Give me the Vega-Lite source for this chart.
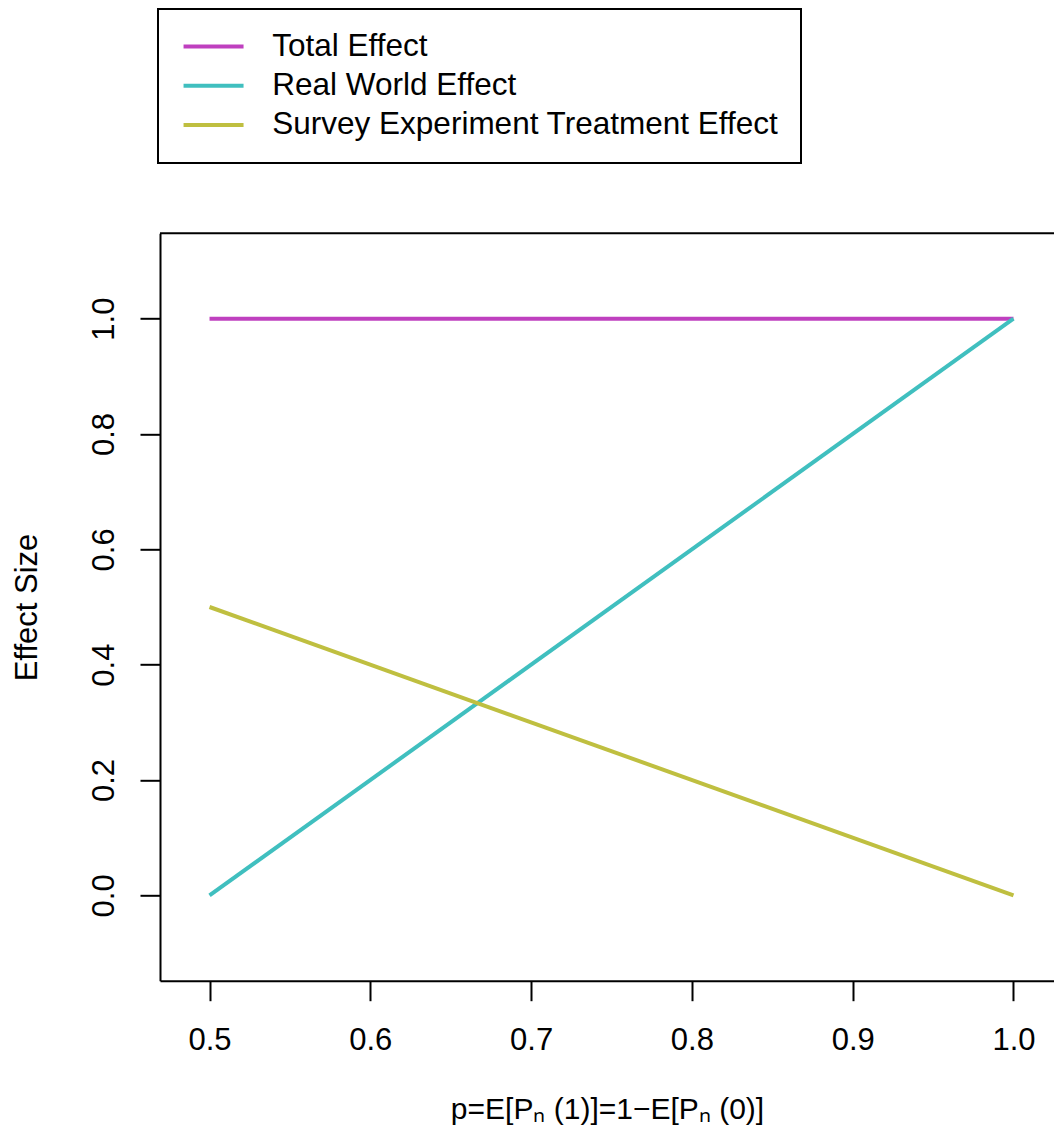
{
  "$schema": "https://vega.github.io/schema/vega-lite/v6.json",
  "autosize": "none",
  "width": 894,
  "height": 747.4,
  "padding": {"left": 160, "top": 233.3, "right": 0, "bottom": 152.3},
  "background": "white",
  "config": {
    "view": {"stroke": null},
    "font": "Liberation Sans"
  },
  "data": {
    "values": [
      {"p": 0.5, "effect": 1.0, "series": "Total Effect"},
      {"p": 1.0, "effect": 1.0, "series": "Total Effect"},
      {"p": 0.5, "effect": 0.0, "series": "Real World Effect"},
      {"p": 1.0, "effect": 1.0, "series": "Real World Effect"},
      {"p": 0.5, "effect": 0.5, "series": "Survey Experiment Treatment Effect"},
      {"p": 1.0, "effect": 0.0, "series": "Survey Experiment Treatment Effect"}
    ]
  },
  "layer": [
    {
      "data": {"values": [{}]},
      "mark": {"type": "rule", "color": "black", "strokeWidth": 2},
      "encoding": {"y": {"datum": 1.148, "type": "quantitative"}}
    },
    {
      "mark": {"type": "line", "strokeWidth": 4, "strokeCap": "butt"},
      "encoding": {
        "x": {
          "field": "p",
          "type": "quantitative",
          "scale": {"domain": [0.4692, 1.0252], "nice": false, "zero": false},
          "axis": {
            "values": [0.5, 0.6, 0.7, 0.8, 0.9, 1.0],
            "format": ".1f",
            "grid": false,
            "domainColor": "black",
            "domainWidth": 2,
            "tickColor": "black",
            "tickWidth": 2,
            "tickSize": 20,
            "labelFontSize": 31,
            "labelColor": "black",
            "labelPadding": 48.6,
            "labelBaseline": "alphabetic",
            "labelFlush": false,
            "labelOverlap": false,
            "title": "p=E[Pₙ (1)]=1−E[Pₙ (0)]",
            "titleFontSize": 30,
            "titleFontWeight": "normal",
            "titleColor": "black",
            "titleBaseline": "alphabetic",
            "titleY": 137.6
          }
        },
        "y": {
          "field": "effect",
          "type": "quantitative",
          "scale": {"domain": [-0.148, 1.148], "nice": false, "zero": false},
          "axis": {
            "values": [0, 0.2, 0.4, 0.6, 0.8, 1.0],
            "format": ".1f",
            "grid": false,
            "domainColor": "black",
            "domainWidth": 2,
            "tickColor": "black",
            "tickWidth": 2,
            "tickSize": 20,
            "labelFontSize": 31,
            "labelColor": "black",
            "labelAngle": 270,
            "labelAlign": "center",
            "labelBaseline": "alphabetic",
            "labelPadding": 27,
            "labelFlush": false,
            "labelOverlap": false,
            "title": "Effect Size",
            "titleFontSize": 31,
            "titleFontWeight": "normal",
            "titleColor": "black",
            "titleAngle": 270,
            "titleAlign": "center",
            "titleBaseline": "alphabetic",
            "titleX": -124,
            "titleY": 373.7
          }
        },
        "color": {
          "field": "series",
          "type": "nominal",
          "scale": {
            "domain": ["Total Effect", "Real World Effect", "Survey Experiment Treatment Effect"],
            "range": ["#BF40BF", "#40BFBF", "#BFBF40"]
          },
          "legend": {
            "orient": "none",
            "legendX": -2,
            "legendY": -224.3,
            "direction": "vertical",
            "title": null,
            "strokeColor": "black",
            "fillColor": "white",
            "padding": 21.8,
            "symbolType": "M-1.2,0H4.8",
            "symbolSize": 400,
            "symbolStrokeWidth": 4,
            "labelFontSize": 31.5,
            "labelColor": "black",
            "labelOffset": 61,
            "labelLimit": 1000,
            "rowPadding": 6.2,
            "encode": {"legend": {"update": {"strokeWidth": {"value": 2}}}}
          }
        }
      }
    }
  ]
}
